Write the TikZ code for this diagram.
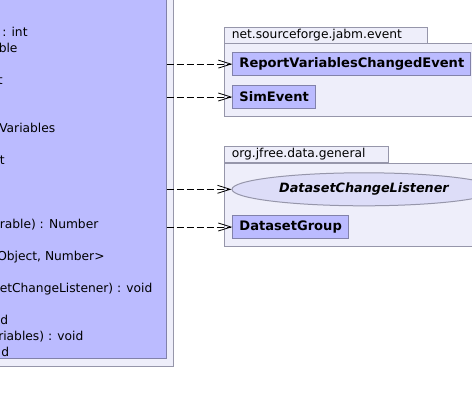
\documentclass[tikz,border=0pt]{standalone}
\usepackage{fontspec}
\setmainfont{DejaVu Sans}
\usetikzlibrary{shapes.geometric,arrows.meta}
\definecolor{pkgfill}{RGB}{238,238,250}
\definecolor{clsfill}{RGB}{187,187,255}
\definecolor{ellfill}{RGB}{221,221,248}
\definecolor{pkgline}{RGB}{150,150,170}
\definecolor{clsline}{RGB}{130,130,170}
\tikzset{
  x=0.75pt, y=-0.75pt,
  every node/.style={font=\fontsize{9.2}{11}\selectfont},
  pkgbody/.style={draw=pkgline, fill=pkgfill, line width=0.75pt, rectangle, inner sep=0pt, anchor=north west},
  pkgtab/.style={draw=pkgline, fill=pkgfill, line width=0.75pt, rectangle, inner xsep=5.25pt, inner ysep=0pt, minimum height=12.45pt, align=left, anchor=north west},
  clsbox/.style={draw=clsline, fill=clsfill, line width=0.75pt, rectangle, inner xsep=5pt, inner ysep=0pt, minimum height=17pt, anchor=west, font=\fontsize{9.8}{11}\selectfont\bfseries},
  ifbox/.style={draw=pkgline, fill=ellfill, line width=0.75pt, ellipse, inner sep=0pt, minimum width=198pt, minimum height=24.75pt, font=\fontsize{9.6}{11}\selectfont\bfseries\itshape},
  member/.style={anchor=base west, inner sep=0pt},
  dep/.style={dashed, dash pattern=on 5.25pt off 2.25pt, line width=0.6pt, -{Straight Barb[length=9.5pt,width=6pt,line width=0.6pt]}}
}
\begin{document}
\begin{tikzpicture}
\useasboundingbox (0,0) rectangle (472,405);
% left package and class
\node[pkgbody, minimum width=180pt, minimum height=300pt, anchor=south east] (lpkg) at (174,367) {};
\node[draw=clsline, fill=clsfill, line width=0.75pt, rectangle, inner sep=0pt, minimum width=174pt, minimum height=294pt, anchor=south east] (cls) at (166.5,359) {};
% member fragments
\node[member] (m1) at (2,36) {: int};
\node[member] (m2) at (-1.5,52) {ble};
\node[member] (m3) at (-2.5,84) {t};
\node[member] (m4) at (-1,132) {Variables};
\node[member] (m5) at (-0.5,164) {t};
\node[member] (m6) at (-0.5,228) {rable) : Number};
\node[member] (m7) at (-3,260) {Object, Number>};
\node[member] (m8) at (-0.5,292) {etChangeListener) : void};
\node[member] (m9) at (0,324) {d};
\node[member] (m10) at (-2,340) {riables) : void};
\node[member] (m11) at (1,356) {d};
% package net.sourceforge.jabm.event
\node[pkgbody, minimum width=200pt, minimum height=54.75pt] (p1) at (224.3,43.3) {};
\node[pkgtab, text width=141.3pt] (p1tab) at (224.3,26.7) {net.sourceforge.jabm.event};
\node[clsbox] (rvce) at (232.3,64.1) {ReportVariablesChangedEvent};
\node[clsbox] (sim) at (232.3,97) {SimEvent};
% package org.jfree.data.general
\node[pkgbody, minimum width=200pt, minimum height=62pt] (p2) at (224.3,163.3) {};
\node[pkgtab, text width=112.05pt] (p2tab) at (224.3,145.7) {org.jfree.data.general};
\node[ifbox] (dcl) at (364,189.3) {DatasetChangeListener};
\node[clsbox] (dsg) at (232.3,227) {DatasetGroup};
% dependencies
\draw[dep] (rvce.west -| cls.east) -- (rvce.west);
\draw[dep] (sim.west -| cls.east) -- (sim.west);
\draw[dep] (dcl.west -| cls.east) -- (dcl.west);
\draw[dep] (dsg.west -| cls.east) -- (dsg.west);
\end{tikzpicture}
\end{document}
